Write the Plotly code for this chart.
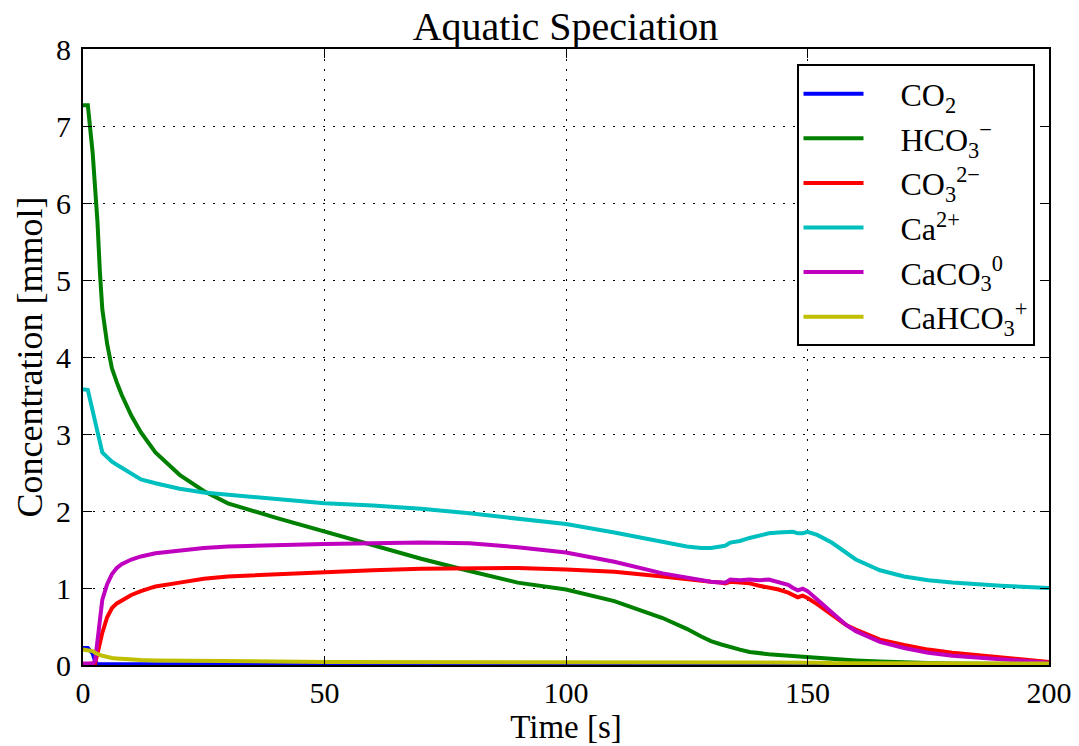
import plotly.graph_objects as go

# time axis [s]
time_s = [0, 1, 2, 2.5, 3, 3.5, 4, 5, 6, 7, 8, 10, 12, 15, 20, 25, 30, 40, 50, 60,
          70, 80, 90, 100, 110, 120, 125, 128, 130, 132, 133, 134, 136, 138, 140, 142,
          144, 146, 147, 148, 149, 150, 152, 155, 158, 160, 165, 170, 175, 180, 190, 200]

co2 = [0.22, 0.22, 0.15, 0.05, 0.01, 0.01, 0.01, 0.01, 0.01, 0.01, 0.01, 0.01, 0.01, 0.01,
       0.01, 0.01, 0.01, 0.01, 0.005, 0.005, 0.005, 0.005, 0.005, 0.005, 0.005, 0.005, 0.005,
       0.005, 0.005, 0.005, 0.005, 0.005, 0.005, 0.005, 0.005, 0.005, 0.005, 0.005, 0.005,
       0.005, 0.005, 0.005, 0.005, 0.005, 0.005, 0.005, 0.005, 0.005, 0.005, 0.005, 0.005, 0.005]

hco3 = [7.27, 7.27, 6.65, 6.25, 5.75, 5.1, 4.62, 4.17, 3.85, 3.67, 3.51, 3.24, 3.02, 2.76,
        2.47, 2.26, 2.10, 1.91, 1.73, 1.55, 1.38, 1.22, 1.07, 0.98, 0.83, 0.61, 0.47, 0.37,
        0.31, 0.27, 0.25, 0.23, 0.20, 0.17, 0.15, 0.14, 0.13, 0.12, 0.12, 0.11, 0.11, 0.10,
        0.09, 0.08, 0.07, 0.06, 0.045, 0.03, 0.025, 0.02, 0.015, 0.01]

co3 = [0.01, 0.01, 0.01, 0.02, 0.15, 0.30, 0.42, 0.62, 0.74, 0.80, 0.84, 0.91, 0.96, 1.02,
       1.07, 1.12, 1.15, 1.18, 1.21, 1.23, 1.25, 1.26, 1.26, 1.24, 1.21, 1.15, 1.11, 1.09,
       1.08, 1.07, 1.06, 1.08, 1.07, 1.06, 1.03, 1.01, 0.98, 0.94, 0.91, 0.88, 0.90, 0.87,
       0.79, 0.65, 0.52, 0.46, 0.33, 0.26, 0.20, 0.16, 0.10, 0.04]

ca = [3.58, 3.57, 3.30, 3.16, 3.00, 2.86, 2.76, 2.70, 2.64, 2.60, 2.56, 2.48, 2.41, 2.36,
      2.29, 2.24, 2.21, 2.15, 2.10, 2.07, 2.03, 1.97, 1.90, 1.83, 1.72, 1.60, 1.54, 1.52,
      1.52, 1.54, 1.55, 1.59, 1.61, 1.65, 1.68, 1.71, 1.72, 1.73, 1.73, 1.71, 1.71, 1.73,
      1.69, 1.59, 1.46, 1.37, 1.23, 1.15, 1.10, 1.07, 1.03, 1.00]

caco3 = [0.02, 0.02, 0.02, 0.05, 0.30, 0.60, 0.85, 1.05, 1.18, 1.26, 1.31, 1.37, 1.41, 1.45,
         1.49, 1.52, 1.54, 1.56, 1.57, 1.58, 1.59, 1.58, 1.53, 1.46, 1.34, 1.19, 1.13, 1.10,
         1.08, 1.07, 1.07, 1.11, 1.10, 1.11, 1.10, 1.11, 1.08, 1.04, 1.00, 0.97, 0.99, 0.96,
         0.85, 0.68, 0.52, 0.44, 0.30, 0.22, 0.16, 0.12, 0.07, 0.03]

cahco3 = [0.20, 0.19, 0.18, 0.16, 0.14, 0.13, 0.12, 0.10, 0.09, 0.085, 0.08, 0.07, 0.065,
          0.06, 0.055, 0.05, 0.05, 0.045, 0.04, 0.04, 0.035, 0.035, 0.035, 0.03, 0.03, 0.03,
          0.03, 0.03, 0.03, 0.03, 0.03, 0.03, 0.03, 0.03, 0.03, 0.03, 0.03, 0.03, 0.03, 0.03,
          0.03, 0.03, 0.03, 0.025, 0.025, 0.025, 0.025, 0.02, 0.02, 0.02, 0.02, 0.02]

series_names = ["CO<sub>2</sub>", "HCO<sub>3</sub><sup>−</sup>", "CO<sub>3</sub><sup>2−</sup>",
                "Ca<sup>2+</sup>", "CaCO<sub>3</sub><sup>0</sup>", "CaHCO<sub>3</sub><sup>+</sup>"]
series_values = [co2, hco3, co3, ca, caco3, cahco3]
series_colors = ["#0000ff", "#008000", "#ff0000", "#00bfbf", "#bf00bf", "#bfbf00"]

x_ticks = [0, 50, 100, 150, 200]
y_ticks = [0, 1, 2, 3, 4, 5, 6, 7, 8]

FONT = "Liberation Serif, DejaVu Serif, serif"
PAD = "\u00a0" * 4

fig = go.Figure()
for name, vals, col in zip(series_names, series_values, series_colors):
    fig.add_trace(go.Scatter(x=time_s, y=vals, name=PAD + name, mode="lines",
                             line=dict(color=col, width=4)))

axis_common = dict(showline=True, linecolor="black", linewidth=2, mirror="ticks",
                   ticks="inside", ticklen=9, tickcolor="black", tickwidth=1,
                   showgrid=True, gridcolor="black", gridwidth=1, griddash="2px,8px",
                   zeroline=False, automargin=False,
                   tickfont=dict(family=FONT, size=30, color="black"))

fig.update_layout(
    width=1079, height=746,
    margin=dict(l=83, r=30, t=49, b=81),
    paper_bgcolor="white", plot_bgcolor="white",
    font=dict(family=FONT, color="black"),
    title=dict(text="Aquatic Speciation", x=0.524, xanchor="center", y=0.965, yanchor="middle",
               font=dict(family=FONT, size=40, color="black")),
    xaxis=dict(range=[0, 200], tickvals=x_ticks,
               title=dict(text="Time [s]", font=dict(family=FONT, size=33), standoff=4),
               **axis_common),
    yaxis=dict(range=[0, 8], tickvals=y_ticks, ticklabelstandoff=4,
               title=dict(text="Concentration [mmol]", font=dict(family=FONT, size=36), standoff=2),
               **axis_common),
    legend=dict(x=0.985, y=0.975, xanchor="right", yanchor="top",
                bgcolor="white", bordercolor="black", borderwidth=2,
                font=dict(family=FONT, size=32, color="black"),
                itemwidth=60, tracegroupgap=0),
    showlegend=True,
)

fig.write_html("out.html")
